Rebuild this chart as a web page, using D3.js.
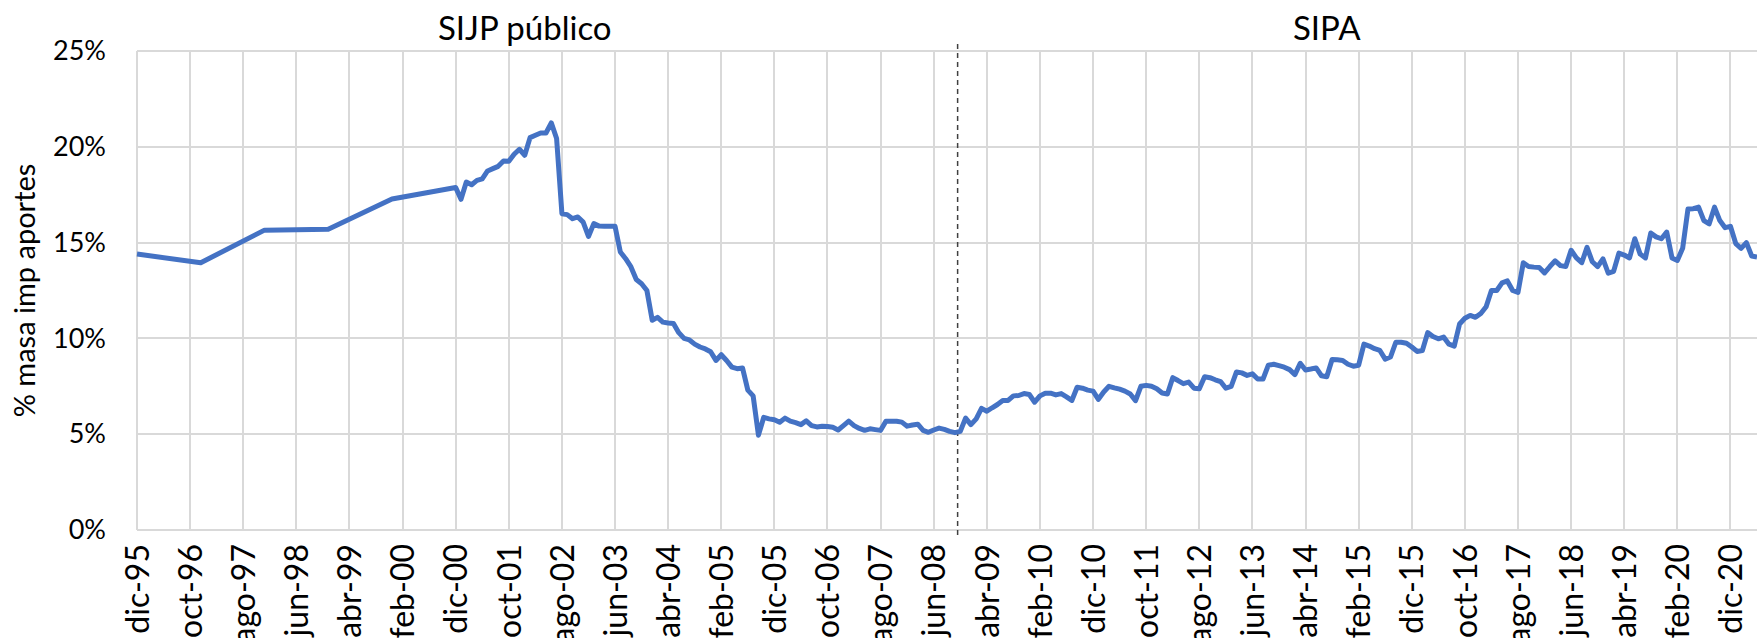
<!DOCTYPE html>
<meta charset="utf-8">
<style>
    body {
        margin: 0;
        background: #fff;
        font-family: Lato, "Open Sans", sans-serif;
    }

    .grid line {
        stroke: #d9d9d9;
        stroke-width: 2;
        shape-rendering: crispEdges;
    }

    .axis path {
        display: none;
    }

    .axis text {
        fill: #000;
    }

    .line {
        fill: none;
        stroke: #4472c4;
        stroke-width: 5;
        stroke-linejoin: round;
    }
</style>

<body>
    <script src="https://d3js.org/d3.v7.min.js"></script>
    <script>

        // yearly points before 2001, then monthly from ene-01
        var annualDates = ["1995-12", "1996-12", "1997-12", "1998-12", "1999-12", "2000-12"];
        var annualValues = [14.4, 13.95, 15.65, 15.7, 17.28, 17.88];

        var monthlyStart = "2001-01";
        var monthlyValues = [
            17.26, 18.16, 18.02, 18.25, 18.33, 18.74, 18.86, 18.98, 19.26, 19.24, 19.61, 19.87, // 2001
            19.56, 20.48, 20.6, 20.72, 20.72, 21.25, 20.43, 16.51, 16.46, 16.25, 16.34, 16.07,  // 2002
            15.32, 15.99, 15.86, 15.85, 15.85, 15.85, 14.51, 14.16, 13.73, 13.07, 12.85, 12.5,  // 2003
            10.95, 11.1, 10.85, 10.8, 10.78, 10.3, 10.0, 9.92, 9.7, 9.55, 9.45, 9.3,            // 2004
            8.85, 9.15, 8.85, 8.5, 8.42, 8.46, 7.3, 7.0, 4.95, 5.88, 5.8, 5.75,                 // 2005
            5.62, 5.84, 5.68, 5.6, 5.5, 5.7, 5.45, 5.38, 5.42, 5.4, 5.36, 5.22,                 // 2006
            5.45, 5.68, 5.45, 5.3, 5.2, 5.28, 5.24, 5.2, 5.68, 5.68, 5.68, 5.63,                // 2007
            5.42, 5.48, 5.52, 5.2, 5.1, 5.22, 5.32, 5.25, 5.15, 5.08, 5.15, 5.84,               // 2008
            5.5, 5.8, 6.35, 6.2, 6.38, 6.55, 6.76, 6.76, 7.0, 7.02, 7.12, 7.07,                 // 2009
            6.67, 7.0, 7.14, 7.14, 7.05, 7.12, 6.95, 6.76, 7.45, 7.4, 7.3, 7.25,                // 2010
            6.82, 7.2, 7.5, 7.42, 7.35, 7.25, 7.1, 6.75, 7.5, 7.55, 7.5, 7.37,                  // 2011
            7.15, 7.1, 7.95, 7.8, 7.64, 7.72, 7.4, 7.37, 8.0, 7.95, 7.84, 7.75,                 // 2012
            7.4, 7.49, 8.25, 8.2, 8.07, 8.15, 7.88, 7.88, 8.6, 8.65, 8.58, 8.5,                 // 2013
            8.37, 8.11, 8.7, 8.35, 8.4, 8.46, 8.05, 8.0, 8.9, 8.88, 8.85, 8.65,                 // 2014
            8.55, 8.6, 9.7, 9.6, 9.46, 9.37, 8.92, 9.03, 9.8, 9.8, 9.75, 9.55,                  // 2015
            9.32, 9.37, 10.3, 10.1, 9.98, 10.07, 9.7, 9.6, 10.75, 11.05, 11.2, 11.1,            // 2016
            11.3, 11.65, 12.5, 12.5, 12.9, 13.0, 12.5, 12.4, 13.95, 13.75, 13.72, 13.7,         // 2017
            13.42, 13.75, 14.05, 13.8, 13.75, 14.6, 14.2, 13.95, 14.75, 14.0, 13.75, 14.15,     // 2018
            13.4, 13.5, 14.45, 14.35, 14.2, 15.2, 14.4, 14.2, 15.5, 15.3, 15.2, 15.55,          // 2019
            14.2, 14.07, 14.7, 16.75, 16.77, 16.85, 16.15, 15.98, 16.85, 16.15, 15.78, 15.85,   // 2020
            14.95, 14.7, 15.0, 14.3, 14.25                                                      // 2021
        ];

        var tickLabels = ["dic-95", "oct-96", "ago-97", "jun-98", "abr-99", "feb-00", "dic-00",
            "oct-01", "ago-02", "jun-03", "abr-04", "feb-05", "dic-05", "oct-06", "ago-07",
            "jun-08", "abr-09", "feb-10", "dic-10", "oct-11", "ago-12", "jun-13", "abr-14",
            "feb-15", "dic-15", "oct-16", "ago-17", "jun-18", "abr-19", "feb-20", "dic-20"];
        var yTicks = [0, 5, 10, 15, 20, 25];

        var regimes = [
            { label: "SIJP público", at: "2002-01" },
            { label: "SIPA", at: "2014-08" }
        ];
        var breakMonth = "2008-10";

        var margin = { top: 51, right: 0, bottom: 108, left: 137 },
            width = 1757 - margin.left - margin.right,
            height = 638 - margin.top - margin.bottom;

        // months counted from dic-95
        function monthIndex(s) {
            var p = s.split("-");
            return (+p[0] - 1995) * 12 + (+p[1] - 12);
        }

        var data = annualDates.map(function (d, i) {
            return { m: monthIndex(d), v: annualValues[i] };
        });
        var m0 = monthIndex(monthlyStart);
        monthlyValues.forEach(function (v, i) {
            data.push({ m: m0 + i, v: v });
        });

        var lastMonth = data[data.length - 1].m;

        var x = d3.scaleLinear().domain([0, lastMonth]).range([0, width]),
            y = d3.scaleLinear().domain([0, 25]).range([height, 0]);

        var svg = d3.select("body").append("svg")
            .attr("width", 1757)
            .attr("height", 638);

        var g = svg.append("g")
            .attr("transform", "translate(" + margin.left + "," + margin.top + ")");

        var tickMonths = tickLabels.map(function (d, i) { return i * 10; });

        // gridlines
        g.append("g")
            .attr("class", "grid")
            .selectAll("line")
            .data(yTicks)
            .enter().append("line")
            .attr("x1", 0)
            .attr("x2", width)
            .attr("y1", function (d) { return y(d); })
            .attr("y2", function (d) { return y(d); });

        g.append("g")
            .attr("class", "grid")
            .selectAll("line")
            .data(tickMonths)
            .enter().append("line")
            .attr("x1", function (d) { return x(d); })
            .attr("x2", function (d) { return x(d); })
            .attr("y1", 0)
            .attr("y2", height);

        // regime break
        g.append("line")
            .attr("x1", x(monthIndex(breakMonth) + 0.5))
            .attr("x2", x(monthIndex(breakMonth) + 0.5))
            .attr("y1", -7)
            .attr("y2", height + 7)
            .attr("stroke", "#404040")
            .attr("stroke-width", 1.5)
            .attr("stroke-dasharray", "5,4");

        var line = d3.line()
            .x(function (d) { return x(d.m); })
            .y(function (d) { return y(d.v); });

        g.append("path")
            .datum(data)
            .attr("class", "line")
            .attr("d", line);

        // axes
        var xAxis = g.append("g")
            .attr("class", "axis")
            .attr("transform", "translate(0," + height + ")")
            .call(d3.axisBottom(x)
                .tickValues(tickMonths)
                .tickSize(0)
                .tickFormat(function (d, i) { return tickLabels[i]; }));

        xAxis.selectAll("text")
            .attr("font-size", 32)
            .attr("font-family", "Lato, sans-serif")
            .attr("text-anchor", "end")
            .attr("transform", "rotate(-90)")
            .attr("x", -14)
            .attr("y", 0)
            .attr("dy", "0.35em");

        g.append("g")
            .attr("class", "axis")
            .call(d3.axisLeft(y)
                .tickValues(yTicks)
                .tickSize(0)
                .tickPadding(31)
                .tickFormat(function (d) { return d + "%"; }))
            .selectAll("text")
            .attr("font-size", 27)
            .attr("font-family", "Lato, sans-serif");

        g.append("text")
            .attr("transform", "rotate(-90)")
            .attr("x", -height / 2)
            .attr("y", -112)
            .attr("dy", "0.35em")
            .attr("text-anchor", "middle")
            .attr("font-size", 29)
            .text("% masa imp aportes");

        g.selectAll(".regime")
            .data(regimes)
            .enter().append("text")
            .attr("class", "regime")
            .attr("x", function (d) { return x(monthIndex(d.at)); })
            .attr("y", -11)
            .attr("text-anchor", "middle")
            .attr("font-size", 33)
            .text(function (d) { return d.label; });

    </script>
